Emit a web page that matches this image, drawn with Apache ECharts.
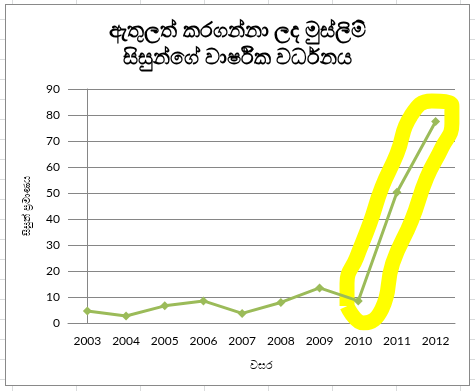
<!DOCTYPE html>
<html><head><meta charset="utf-8">
<script src="https://cdn.jsdelivr.net/npm/echarts@6/dist/echarts.min.js"></script>
<style>
html,body{margin:0;padding:0;width:475px;height:391px;overflow:hidden;
background-color:#fff;
background-image:
 repeating-linear-gradient(to right, transparent 0, transparent 12px, #dadcdd 12px, #dadcdd 13px, transparent 13px, transparent 64px),
 repeating-linear-gradient(to bottom, transparent 0, transparent 19px, #dadcdd 19px, #dadcdd 20px);
}
#c{position:absolute;left:5px;top:4px;width:463px;height:380px;background:#fff;border:1px solid #898989;}
</style></head>
<body><div id="c"></div>
<script>
const titleText = 'ඇතුලත් කරගන්නා ලද මුස්ලිම්\nසිසුන්ගේ වාර්ෂික වර්ධනය';
const xAxisName = 'වසර';
const yAxisName = 'සිසුන් ප්‍රමාණය';
const years = ['2003','2004','2005','2006','2007','2008','2009','2010','2011','2012'];
const students = [4.6, 2.7, 6.6, 8.5, 3.7, 7.9, 13.5, 8.5, 50.3, 77.5];
// freehand highlight loop, in (category index, value) units
const highlightX = [6.71, 7.14, 7.61, 7.89, 8.38, 8.77, 9.16, 9.42, 9.42, 8.90, 8.36, 8.00, 7.61, 7.30, 6.96, 6.71, 6.71];
const highlightY = [6.5, 0.0, 5.4, 23.0, 39.5, 55.9, 67.4, 76.6, 83.5, 85.4, 79.7, 65.1, 52.1, 38.3, 25.3, 15.3, 6.5];

const chart = echarts.init(document.getElementById('c'));
const lblFont = 'Lato, "Open Sans", sans-serif';
chart.setOption({
  animation:false,
  backgroundColor:'#fff',
  title:{text:titleText,left:'center',top:8,
    textStyle:{fontSize:21,fontWeight:'bold',color:'#000',lineHeight:27,fontFamily:'"Noto Sans", sans-serif'}},
  grid:{left:62,right:14,top:84,bottom:62},
  xAxis:[{type:'category',data:years,boundaryGap:true,
    name:xAxisName,nameLocation:'middle',nameGap:37,
    nameTextStyle:{fontSize:11,color:'#000'},
    axisLine:{lineStyle:{color:'#868686'}},axisTick:{show:false},
    axisLabel:{fontSize:12,color:'#000',fontFamily:lblFont,margin:12}},
   {type:'value',min:-0.5,max:9.5,show:false}],
  yAxis:{type:'value',min:0,max:90,interval:10,
    name:yAxisName,nameLocation:'middle',nameGap:36,nameRotate:90,
    nameTextStyle:{fontSize:10,color:'#000'},
    axisLine:{show:true,lineStyle:{color:'#868686'}},
    axisTick:{show:true,inside:false,length:4,lineStyle:{color:'#868686'}},
    splitLine:{lineStyle:{color:'#868686'}},
    axisLabel:{fontSize:12,color:'#000',fontFamily:lblFont,margin:8}},
  series:[
   {type:'line',xAxisIndex:1,data:highlightX.map((x,i)=>[x,highlightY[i]]),
    smooth:0.5,symbol:'none',z:1,lineStyle:{color:'#ffff00',width:15}},
   {type:'line',data:students,z:3,symbol:'diamond',symbolSize:9,
    itemStyle:{color:'#9bbb59'},lineStyle:{color:'#9bbb59',width:3}}
  ]
});
</script></body></html>
